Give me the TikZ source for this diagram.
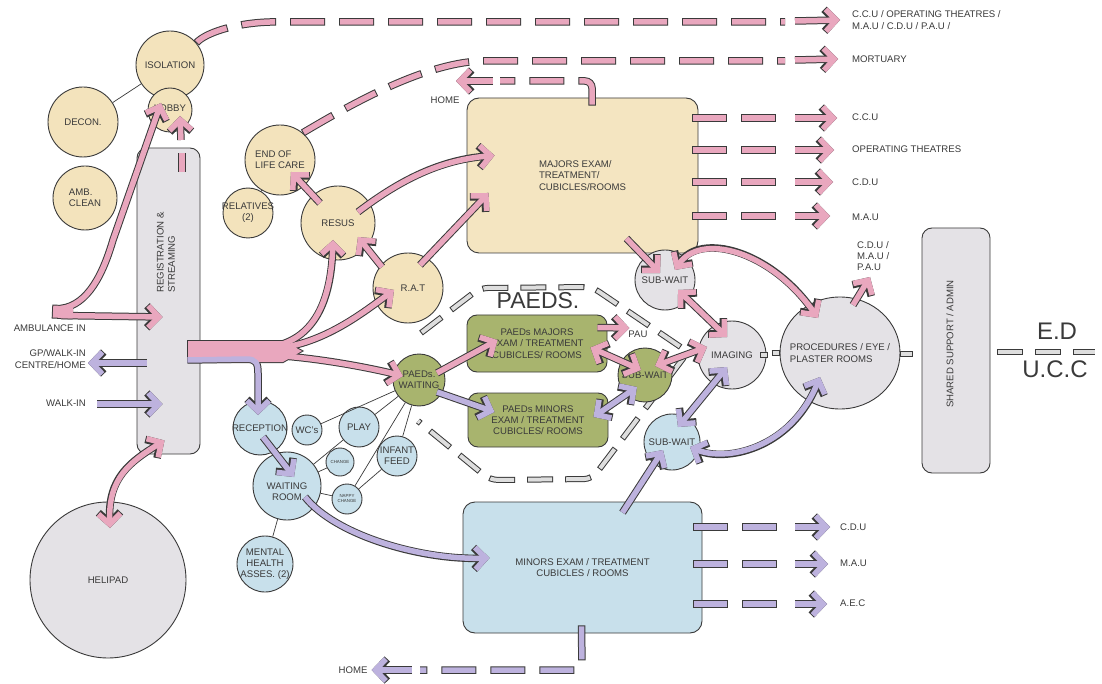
\documentclass[tikz,border=0pt]{standalone}
\usepackage{fontspec}
\setmainfont{Liberation Sans}
\usetikzlibrary{arrows.meta,calc,shapes.geometric}

\definecolor{olc}{HTML}{3A3A3A}
\definecolor{cream}{HTML}{F3E3BC}
\definecolor{creamlt}{HTML}{F4E5C1}
\definecolor{greyn}{HTML}{E4E2E6}
\definecolor{greenn}{HTML}{A8B46E}
\definecolor{bluen}{HTML}{C8E0EB}
\definecolor{pk}{HTML}{E9A7BE}
\definecolor{lv}{HTML}{BDB2DE}
\definecolor{gd}{HTML}{DEDEDE}

\newcommand\lbl{\fontsize{9.6}{11.2}\selectfont}
\newcommand\tinylbl{\fontsize{4.4}{5}\selectfont}

\tikzset{
  roomc/.style={circle,draw=olc,line width=0.9pt,inner sep=0pt},
  block/.style={rectangle,rounded corners=10pt,draw=olc,line width=0.9pt,align=center,font=\lbl,text=olc,inner sep=0pt},
  txt/.style={font=\lbl,text=olc,inner sep=0pt},
  tie/.style={draw=olc,line width=0.7pt},
  barb/.tip={Straight Barb[length=10.5pt,width=22pt]},
  tipE/.style={-barb},
  tipB/.style={barb-barb},
  fatO/.style={line width=7.5pt,draw=olc,line cap=butt,line join=miter},
  fatI/.style={line width=5.5pt,line cap=butt,line join=miter},
  dsO/.style={dash pattern=on 35pt off 14pt},
  dsI/.style={dash pattern=on 33pt off 16pt,dash phase=48pt},
  gO/.style={line width=6pt,draw=olc,line cap=butt,dash pattern=on 26pt off 12pt},
  gI/.style={line width=4pt,draw=gd,line cap=butt,dash pattern=on 24pt off 14pt,dash phase=37pt},
}
% round room: #1 text options, #2 name, #3 centre, #4 fill, #5 diameter, #6 text
\newcommand\room[6][]{\node[roomc,fill=#4,minimum size=#5pt] (#2) at #3 {};
  \node[txt,align=center,#1] (#2t) at (#2) {#6};}
% thick outlined arrow: #1 tips, #2 fill colour, #3 path
\newcommand\fat[3]{\draw[fatO,#1] #3; \draw[fatI,draw=#2,#1] #3;}
% thick outlined dashed stroke
\newcommand\fatdash[3][]{\draw[fatO,dsO,#1] #3; \draw[fatI,draw=#2,dsI,#1] #3;}
% grey outlined dashes
\newcommand\greydash[2][]{\draw[gO,#1] #2; \draw[gI,#1] #2;}
\newcommand\greybar[1]{\draw[line width=6pt,draw=olc] #1; \draw[line width=4pt,draw=gd,shorten <=1pt,shorten >=1pt] #1;}

\begin{document}
\begin{tikzpicture}[x=1pt,y=-1pt]
\fill[white] (0,0) rectangle (1102,684);
\useasboundingbox (0,0) rectangle (1102,684);

% paediatric zone boundary
\greydash[rounded corners=8pt]{(421,333) -- (480,288) -- (592,287) -- (688,352) -- (592,479) -- (490,480) -- (418,421)}

% departments
\node[block,fill=greyn,minimum width=63pt,minimum height=306pt] (reg) at (168.5,301) {};
\node[txt,rotate=90,anchor=west,align=left] (regt) at (166,293) {REGISTRATION \&\\STREAMING};
\node[block,fill=creamlt,minimum width=231pt,minimum height=155pt,rounded corners=12pt,align=left] (majors) at (582.5,175.5) {MAJORS EXAM/\\TREATMENT/\\CUBICLES/ROOMS};
\node[block,fill=greenn,minimum width=140pt,minimum height=57pt] (pmaj) at (537,343.5) {PAEDs MAJORS\\EXAM / TREATMENT\\CUBICLES/ ROOMS};
\node[block,fill=greenn,minimum width=140pt,minimum height=54pt] (pmin) at (538,420) {PAEDs MINORS\\EXAM / TREATMENT\\CUBICLES/ ROOMS};
\node[block,fill=bluen,minimum width=239pt,minimum height=131pt,rounded corners=12pt] (minors) at (582.5,567.5) {MINORS EXAM / TREATMENT\\CUBICLES / ROOMS};
\node[block,fill=greyn,minimum width=68pt,minimum height=245pt] (ssa) at (956,350.5) {};
\node[txt,rotate=90] (ssat) at (950,344) {SHARED SUPPORT / ADMIN};

% rooms
\room{iso}{(170,65)}{cream}{68}{ISOLATION}
\room[yshift=2pt]{lobby}{(170,110)}{cream}{44}{LOBBY}
\room{decon}{(83,122)}{cream}{70}{DECON.}
\room[align=left]{amb}{(85,198)}{cream}{64}{AMB.\\CLEAN}
\room[align=left]{eol}{(280,160)}{cream}{70}{END OF\\LIFE CARE}
\room{rel}{(248,213)}{cream}{50}{RELATIVES\\(2)}
\room{resus}{(338,223)}{cream}{74}{RESUS}
\room[xshift=5pt]{rat}{(408,288)}{cream}{70}{R.A.T}
\room{paw}{(419,380)}{greenn}{52}{PAEDs.\\WAITING}
\room{rec}{(260,428)}{bluen}{54}{RECEPTION}
\room{wc}{(307,430)}{bluen}{30}{WC's}
\room{play}{(359,427)}{bluen}{40}{PLAY}
\room[font=\tinylbl]{chg}{(340,462)}{bluen}{28}{CHANGE}
\room{inf}{(397,456)}{bluen}{40}{INFANT\\FEED}
\room[font=\tinylbl]{nap}{(347,499)}{bluen}{30}{NAPPY\\CHANGE}
\room[yshift=-6pt]{wr}{(287,486)}{bluen}{68}{WAITING\\ROOM}
\room{mh}{(265,564)}{bluen}{56}{MENTAL\\HEALTH\\ASSES. (2)}
\room{heli}{(108,580)}{greyn}{156}{HELIPAD}
\room{sw1}{(665,280)}{greyn}{60}{SUB-WAIT}
\room{sw2}{(645,375)}{greenn}{54}{SUB-WAIT}
\room{sw3}{(672,442)}{bluen}{56}{SUB-WAIT}
\room{img}{(732,355)}{greyn}{68}{IMAGING}
\node[roomc,ellipse,fill=greyn,minimum width=120pt,minimum height=112pt] (proc) at (840,353) {};
\node[txt,align=left] (proct) at (proc) {PROCEDURES / EYE /\\PLASTER ROOMS};

% labels
\node[txt,anchor=west,align=left] (dstA) at (852,20) {C.C.U / OPERATING THEATRES /\\M.A.U / C.D.U / P.A.U /};
\node[txt,anchor=west] (dstB) at (852,59) {MORTUARY};
\node[txt,anchor=west] (dstC) at (852,117) {C.C.U};
\node[txt,anchor=west] (dstD) at (852,149) {OPERATING THEATRES};
\node[txt,anchor=west] (dstE) at (852,182) {C.D.U};
\node[txt,anchor=west] (dstF) at (852,217) {M.A.U};
\node[txt,anchor=west,align=left] (dstG) at (857,256) {C.D.U /\\M.A.U /\\P.A.U};
\node[txt,anchor=west] (dstH) at (840,527) {C.D.U};
\node[txt,anchor=west] (dstI) at (840,563) {M.A.U};
\node[txt,anchor=west] (dstJ) at (840,603) {A.E.C};
\node[txt] (homeT) at (445,100) {HOME};
\node[txt] (homeB) at (353,670) {HOME};
\node[txt,anchor=east] (ambT) at (86,328) {AMBULANCE IN};
\node[txt,anchor=east,align=right] (gpT) at (86,359) {GP/WALK-IN\\CENTRE/HOME};
\node[txt,anchor=east] (walkT) at (86,403) {WALK-IN};
\node[txt] (pau) at (638,334) {PAU};
\node[txt,font=\fontsize{23}{26}\selectfont] (paeds) at (538,301) {PAEDS.};
\node[txt,font=\fontsize{24}{26}\selectfont] (edT) at (1057,331) {E.D};
\node[txt,font=\fontsize{24}{26}\selectfont] (uccT) at (1055,369) {U.C.C};
\coordinate (homeA) at (456,81);

% adjacency ties
\draw[tie] (iso) -- (decon);
\draw[tie] (eol) -- (rel);
\draw[tie] (wr) -- (mh);
\draw[tie] (wr) -- (chg);
\draw[tie] (wr) -- (nap);
\draw[tie] (wr) -- (play);
\draw[tie] (nap) -- (inf);
\draw[tie] (paw) -- (wc);
\draw[tie] (paw) -- (play);
\draw[tie] (paw) -- (inf);
\draw[tie] (paw) -- (nap);

% service links
\greybar{($(img.east)+(-6,0)$) -- ($(img.east)+(2,0)$)}
\greybar{($(proc.west)+(-8,0)$) -- (proc.west)}
\greybar{($(proc.east)+(0,1)$) -- ($(proc.east)+(13,1)$)}
\greydash{($(ssa.east)+(7,1.5)$) -- ($(ssa.east)+(105,1.5)$)}

% ambulance arrivals
\coordinate (ambIn) at (53,311.5);
\draw[fatO,line width=14pt] ($(ambIn)+(-1,0)$) -- ($(ambIn)+(20,1)$);
\draw[fatO,tipE] ($(ambIn)+(8,4)$) -- ($(reg.west)+(26,16)$);
\draw[fatO,tipE] ($(ambIn)+(8,-3)$) .. controls (88,305) and (103,274) .. (113,240) -- ($(lobby)+(-9,-7)$);
\draw[fatI,draw=pk,line width=12pt] (ambIn) -- ($(ambIn)+(20,1)$);
\draw[fatI,draw=pk,tipE] ($(ambIn)+(8,4)$) -- ($(reg.west)+(26,16)$);
\draw[fatI,draw=pk,tipE] ($(ambIn)+(8,-3)$) .. controls (88,305) and (103,274) .. (113,240) -- ($(lobby)+(-9,-7)$);

% registration to isolation lobby
\fat{}{pk}{($(reg.north)+(13.5,24)$) -- ($(reg.north)+(13.5,5)$)}
\fat{tipE}{pk}{($(lobby)+(11,30)$) -- ($(lobby)+(10,6)$)}

% onward transfers from isolation and end of life care
\fatdash{pk}{(iso.40) .. controls (205,33) and (235,23) .. (270,22) -- (785,22)}
\fat{tipE}{pk}{(795,21) -- ($(dstA.west)+(-12,0)$)}
\fatdash{pk}{(eol.50) .. controls (345,108) and (420,64) .. (480,61) -- (785,61)}
\fat{tipE}{pk}{(795,60) -- ($(dstB.west)+(-14,0)$)}

% majors exits
\fatdash[rounded corners=7pt]{pk}{($(majors.north)+(9.5,8)$) -- (592,81) -- (500,81)}
\fat{tipE}{pk}{(493,81) -- (homeA)}
\fatdash{pk}{($(majors.east)+(-6,-57.5)$) -- (782,118)}
\fat{tipE}{pk}{(795,118) -- ($(dstC.west)+(-15,1)$)}
\fatdash{pk}{($(majors.east)+(-6,-25.5)$) -- (782,150)}
\fat{tipE}{pk}{(795,150) -- ($(dstD.west)+(-18,1)$)}
\fatdash{pk}{($(majors.east)+(-6,6.5)$) -- (782,182)}
\fat{tipE}{pk}{(795,182) -- ($(dstE.west)+(-19,0)$)}
\fatdash{pk}{($(majors.east)+(-6,40.5)$) -- (782,216)}
\fat{tipE}{pk}{(795,216) -- ($(dstF.west)+(-22,-1)$)}

% resus and rapid assessment
\fat{tipE}{pk}{($(resus)+(-18,-20)$) -- ($(eol)+(11,12)$)}
\fat{tipE}{pk}{($(resus)+(20,-11)$) .. controls (400,180) and (440,160) .. ($(majors.west)+(28,-20)$)}
\fat{tipE}{pk}{($(rat)+(-26,-21)$) -- ($(resus)+(20,14)$)}
\fat{tipE}{pk}{($(rat)+(12,-23)$) -- ($(majors.west)+(22,17.5)$)}

% streaming trunk out of registration
\draw[fatO,tipE] ($(reg.east)+(-13,59)$) -- (246,359) .. controls (256,359) and (258,363) .. (258,373) -- ($(rec)+(-2,-13)$);
\draw[olc,line width=2pt,line join=miter] (188,341) -- (283,341) -- (302,351) -- (283,362) -- (188,362) -- cycle;
\draw[fatO,tipE] (270,347) .. controls (315,340) and (331,300) .. ($(resus)+(-5,17)$);
\draw[fatO,tipE] (270,349) .. controls (320,346) and (360,315) .. ($(rat)+(-14,2)$);
\draw[fatO,tipE] (270,355) .. controls (320,358) and (370,368) .. ($(paw)+(-16,-4)$);
\fill[pk] (188,341) -- (283,341) -- (302,351) -- (283,362) -- (188,362) -- cycle;
\draw[fatI,draw=pk,tipE] (270,347) .. controls (315,340) and (331,300) .. ($(resus)+(-5,17)$);
\draw[fatI,draw=pk,tipE] (270,349) .. controls (320,346) and (360,315) .. ($(rat)+(-14,2)$);
\draw[fatI,draw=pk,tipE] (270,355) .. controls (320,358) and (370,368) .. ($(paw)+(-16,-4)$);
\draw[fatI,draw=lv,tipE] ($(reg.east)+(-13,59)$) -- (246,359) .. controls (256,359) and (258,363) .. (258,373) -- ($(rec)+(-2,-13)$);

% paediatric flows
\fat{tipE}{pk}{($(paw)+(18,-7)$) -- ($(pmaj.west)+(31,-3.5)$)}
\fat{tipE}{pk}{($(pmaj.east)+(-10,-16)$) -- ($(pau.west)+(1,-6)$)}
\fat{tipB}{pk}{($(pmaj.east)+(-17,4)$) -- ($(sw2)+(-4,-5)$)}
\fat{tipB}{pk}{($(sw2)+(10,-9)$) -- ($(img)+(-25,-8)$)}
\fat{tipE}{lv}{($(paw)+(18,12)$) -- ($(pmin.west)+(27,-8)$)}
\fat{tipB}{lv}{($(pmin.east)+(-15,-3)$) -- ($(sw2)+(-8,12)$)}

% sub-waits, imaging and procedures
\fat{tipE}{pk}{($(majors.south east)+(-72,-15)$) -- ($(sw1)+(-5,-7)$)}
\fat{tipB}{pk}{($(sw1)+(10,-10)$) .. controls (700,232) and (770,250) .. ($(proc)+(-22,-35)$)}
\fat{tipB}{pk}{($(sw1)+(13,10)$) -- ($(img)+(-5,-18)$)}
\fat{tipE}{pk}{($(proc)+(13,-48)$) -- ($(dstG.west)+(13,21)$)}
\fat{tipE}{lv}{($(minors.north)+(40,11)$) -- ($(sw3)+(-9,8)$)}
\fat{tipB}{lv}{($(sw3)+(6,-15)$) -- ($(img)+(-5,12)$)}
\fat{tipB}{lv}{($(sw3)+(18,5)$) .. controls (725,462) and (790,450) .. ($(proc)+(-20,24)$)}

% walk-in flows
\fat{tipE}{lv}{($(reg.west)+(10,62)$) -- ($(gpT.east)+(2,4)$)}
\fat{tipE}{lv}{($(walkT.east)+(11,1)$) -- ($(reg.west)+(26,103)$)}
\fat{tipE}{lv}{($(rec)+(3,9)$) -- ($(wr)+(7,-9)$)}
\fat{tipE}{lv}{($(wr)+(18,11)$) .. controls (335,535) and (420,560) .. ($(minors.west)+(27,-9.5)$)}

% minors exits
\fatdash[rounded corners=7pt]{lv}{($(minors.south)+(-1,-8)$) -- (582,670) -- (420,670)}
\fat{tipE}{lv}{(412,670) -- ($(homeB.east)+(4,0)$)}
\fatdash{lv}{($(minors.east)+(-9,-40.5)$) -- (782,527)}
\fat{tipE}{lv}{(795,527) -- ($(dstH.west)+(-10,0)$)}
\fatdash{lv}{($(minors.east)+(-9,-3.5)$) -- (782,564)}
\fat{tipE}{lv}{(795,564) -- ($(dstI.west)+(-12,1)$)}
\fatdash{lv}{($(minors.east)+(-9,36.5)$) -- (782,604)}
\fat{tipE}{lv}{(795,604) -- ($(dstJ.west)+(-13,1)$)}

% helipad link
\fat{tipB}{pk}{($(reg.south)+(-4,-14)$) .. controls (130,462) and (108,478) .. ($(heli)+(2,-52)$)}
\end{tikzpicture}
\end{document}
